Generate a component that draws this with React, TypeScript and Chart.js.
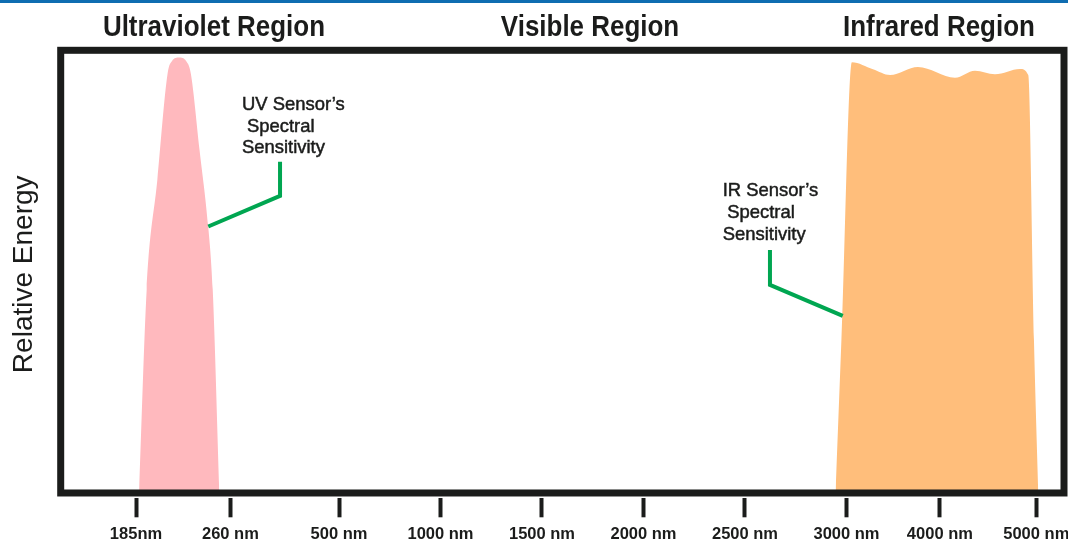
import { useEffect, useRef } from "react";
import { Chart, registerables } from "chart.js";

Chart.register(...registerables);

// ---- axis ticks (positions on a piecewise wavelength axis) ----
const TICK_POSITIONS = [0, 0.93, 2, 3, 4, 5, 6, 7, 7.92, 8.87];
const TICK_LABELS = ["185nm", "260 nm", "500 nm", "1000 nm", "1500 nm", "2000 nm", "2500 nm", "3000 nm", "4000 nm", "5000 nm"];

// ---- UV sensor spectral sensitivity ----
const UV_X = [0.03, 0.105, 0.21, 0.312, 0.355, 0.424, 0.493, 0.539, 0.626, 0.712, 0.756, 0.821];
const UV_Y = [0, 45.9, 70.7, 94.9, 97.6, 98.4, 97.6, 94.9, 77.5, 60.1, 45.9, 0];

// ---- IR sensor spectral sensitivity ----
const IR_X = [6.892, 6.95, 7.053, 7.261, 7.429, 7.704, 8.069, 8.266, 8.463, 8.709, 8.791, 8.847, 8.89];
const IR_Y = [0, 34.6, 97.3, 95.7, 94.4, 96.2, 93.8, 95.4, 94.6, 95.8, 94.4, 34.6, 0];

// ---- region headings ----
const REGION_NAMES = ["Ultraviolet Region", "Visible Region", "Infrared Region"];
const REGION_CENTERS = [0.768, 4.473, 7.911];

// ---- callouts ----
const UV_NOTE_LINES = ["UV Sensor\u2019s", "Spectral", "Sensitivity"];
const IR_NOTE_LINES = ["IR Sensor\u2019s", "Spectral", "Sensitivity"];

const X_RANGE = [-0.742, 9.143];
const Y_RANGE = [-1.2, 100];

const SANS = '"Liberation Sans", Arial, sans-serif';
const INK = "#1b1c1b";
const GREEN = "#00a651";

const NOTES = [
  {
    lines: UV_NOTE_LINES,
    x: 1.044,
    indents: [0, 5, 0],
    baselines: [86.5, 81.5, 76.8],
    leader: [[1.419, 74.8], [1.419, 67.1], [0.712, 60.2]],
  },
  {
    lines: IR_NOTE_LINES,
    x: 5.78,
    indents: [0, 4.5, 0],
    baselines: [67.1, 62.1, 57.1],
    leader: [[6.246, 54.9], [6.246, 47.0], [6.963, 40.0]],
  },
];

function drawCondensed(ctx: CanvasRenderingContext2D, text: string, x: number, y: number, sx: number, align: CanvasTextAlign, stroke = 0) {
  ctx.save();
  ctx.translate(x, y);
  ctx.scale(sx, 1);
  ctx.textAlign = align;
  ctx.textBaseline = "alphabetic";
  ctx.fillText(text, 0, 0);
  if (stroke > 0) {
    ctx.lineWidth = stroke;
    ctx.strokeStyle = ctx.fillStyle as string;
    ctx.strokeText(text, 0, 0);
  }
  ctx.restore();
}

const decorPlugin = {
  id: "decor",
  beforeDraw(chart: any) {
    const { ctx, width } = chart;
    ctx.save();
    ctx.fillStyle = "#ffffff";
    ctx.fillRect(0, 0, width, chart.height);
    ctx.fillStyle = "#0f6db1";
    ctx.fillRect(0, 0, width, 3);
    ctx.restore();
  },
  afterDraw(chart: any) {
    const { ctx, chartArea } = chart;
    const xs = chart.scales.x;
    const ys = chart.scales.y;
    ctx.save();
    // frame
    const bottom = ys.getPixelForValue(0);
    ctx.strokeStyle = INK;
    ctx.lineWidth = 7;
    ctx.lineJoin = "miter";
    ctx.strokeRect(chartArea.left, chartArea.top, chartArea.right - chartArea.left, bottom - chartArea.top);

    // region headings
    ctx.fillStyle = INK;
    ctx.font = `bold 29px ${SANS}`;
    REGION_NAMES.forEach((name, i) => {
      drawCondensed(ctx, name, xs.getPixelForValue(REGION_CENTERS[i]), chartArea.top - 14, 0.895, "center");
    });

    // callouts
    ctx.font = `19px ${SANS}`;
    NOTES.forEach((n) => {
      ctx.fillStyle = INK;
      n.lines.forEach((line, i) => {
        drawCondensed(ctx, line, xs.getPixelForValue(n.x) + n.indents[i], ys.getPixelForValue(n.baselines[i]), 0.97, "left", 0.5);
      });
      ctx.strokeStyle = GREEN;
      ctx.lineWidth = 4;
      ctx.lineJoin = "miter";
      ctx.beginPath();
      n.leader.forEach((p, i) => {
        const px = xs.getPixelForValue(p[0]);
        const py = ys.getPixelForValue(p[1]);
        if (i === 0) ctx.moveTo(px, py);
        else ctx.lineTo(px, py);
      });
      ctx.stroke();
    });
    ctx.restore();
  },
};

export default function App() {
  const ref = useRef<HTMLCanvasElement | null>(null);

  useEffect(() => {
    if (!ref.current) return;
    const chart = new Chart(ref.current, {
      type: "line",
      data: {
        datasets: [
          {
            label: "UV Sensor's Spectral Sensitivity",
            data: UV_X.map((x, i) => ({ x, y: UV_Y[i] })),
            backgroundColor: "#ffb9be",
            borderWidth: 0,
            pointRadius: 0,
            fill: "origin",
            cubicInterpolationMode: "monotone",
          },
          {
            label: "IR Sensor's Spectral Sensitivity",
            data: IR_X.map((x, i) => ({ x, y: IR_Y[i] })),
            backgroundColor: "#ffbe7b",
            borderWidth: 0,
            pointRadius: 0,
            fill: "origin",
            cubicInterpolationMode: "monotone",
          },
        ],
      },
      options: {
        animation: false,
        responsive: false,
        devicePixelRatio: 1,
        layout: { padding: { top: 50.3, right: 4, bottom: 0, left: 0 } },
        plugins: {
          legend: { display: false },
          tooltip: { enabled: false },
        },
        scales: {
          x: {
            type: "linear",
            min: X_RANGE[0],
            max: X_RANGE[1],
            afterBuildTicks: (scale: any) => {
              scale.ticks = TICK_POSITIONS.map((v) => ({ value: v }));
            },
            afterFit: (scale: any) => {
              scale.height = 47.7;
              scale.paddingLeft = 0;
              scale.paddingRight = 0;
            },
            border: { display: false },
            grid: {
              display: true,
              drawOnChartArea: false,
              drawTicks: true,
              tickLength: 19,
              tickWidth: 4,
              tickColor: INK,
            },
            ticks: {
              autoSkip: false,
              maxRotation: 0,
              padding: 7.3,
              color: INK,
              font: { family: SANS, size: 16.5, weight: "bold", lineHeight: 1.2 },
              callback: (_v: any, i: number) => TICK_LABELS[i],
            },
          },
          y: {
            type: "linear",
            min: Y_RANGE[0],
            max: Y_RANGE[1],
            border: { display: false },
            grid: { display: false, drawTicks: false },
            ticks: { display: false },
            title: {
              display: true,
              text: "Relative Energy",
              color: INK,
              font: { family: SANS, size: 28, weight: "normal", lineHeight: 1.2 },
              padding: { top: 7.5, bottom: 19.6 },
            },
          },
        },
      },
      plugins: [decorPlugin],
    } as any);
    return () => chart.destroy();
  }, []);

  return (
    <div style={{ position: "fixed", left: 0, top: 0, width: 1068, height: 546, background: "#fff" }}>
      <canvas ref={ref} width={1068} height={546} style={{ display: "block" }} />
    </div>
  );
}
